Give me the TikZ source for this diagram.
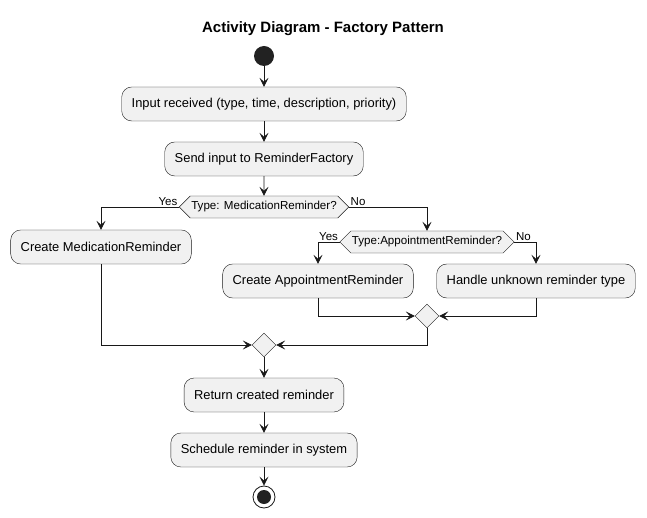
\documentclass[tikz,border=0pt]{standalone}
\usepackage{fontspec}
\setmainfont{Liberation Sans}
\usepackage{tikz}
\usetikzlibrary{shapes.geometric, shapes.symbols, arrows.meta, positioning, calc}

\definecolor{actfill}{HTML}{F1F1F1}
\definecolor{actline}{HTML}{181818}
\definecolor{dotfill}{HTML}{222222}

\begin{document}
\begin{tikzpicture}[
        x=1pt, y=-1pt,
        activity/.style={draw=actline, fill=actfill, rounded corners=10pt, minimum height=34pt, inner xsep=10pt, font=\fontsize{12.9}{15}\selectfont},
        decision/.style={draw=actline, fill=actfill, shape=signal, signal to=west and east, signal pointer angle=90, minimum height=22pt, inner xsep=1pt, inner ysep=0pt, font=\fontsize{11.6}{13}\selectfont},
        merge/.style={draw=actline, fill=actfill, diamond, minimum width=24pt, minimum height=24pt, inner sep=0pt},
        guard/.style={font=\fontsize{11.5}{13}\selectfont, inner sep=1.5pt},
        arrow/.style={-{Stealth[length=9pt, width=9pt, inset=4pt]}, draw=actline, line width=0.8pt}
    ]
    \useasboundingbox (0,0) rectangle (647,518);

    % Title
    \node[font=\fontsize{15}{18}\selectfont\bfseries] (title) at (323,29) {Activity Diagram - Factory Pattern};

    % Start
    \node[circle, fill=dotfill, minimum size=20pt, inner sep=0pt] (start) at (264,56) {};

    % Main flow
    \node[activity] (input) at (264,104) {Input received (type, time, description, priority)};
    \node[activity] (send) at (264,159) {Send input to ReminderFactory};
    \node[decision] (dec1) at (264,207) {Type: MedicationReminder?};

    % Branches
    \node[activity] (med) at (101,247) {Create MedicationReminder};
    \node[decision] (dec2) at (427,242) {Type:AppointmentReminder?};
    \node[activity] (appt) at (318,281) {Create AppointmentReminder};
    \node[activity] (unknown) at (536,281) {Handle unknown reminder type};

    % Merges
    \node[merge] (merge2) at (427,316) {};
    \node[merge] (merge1) at (264,345) {};

    % Tail
    \node[activity] (ret) at (264,395) {Return created reminder};
    \node[activity] (sched) at (264,450) {Schedule reminder in system};

    % End
    \node[circle, draw=actline, fill=white, line width=0.8pt, minimum size=22pt, inner sep=0pt] (stop) at (264,497) {};
    \node[circle, fill=dotfill, minimum size=14pt, inner sep=0pt] (stopdot) at (stop) {};

    % Guards
    \node[guard, anchor=south east] (yes1) at (dec1.west) {Yes};
    \node[guard, anchor=south west] (no1) at (dec1.east) {No};
    \node[guard, anchor=south east] (yes2) at (dec2.west) {Yes};
    \node[guard, anchor=south west] (no2) at (dec2.east) {No};

    % Connectors
    \draw[arrow] (start) -- (input);
    \draw[arrow] (input) -- (send);
    \draw[arrow] (send) -- (dec1);
    \draw[arrow] (dec1.west) -| (med);
    \draw[arrow] (dec1.east) -| (dec2);
    \draw[arrow] (dec2.west) -| (appt);
    \draw[arrow] (dec2.east) -| (unknown);
    \draw[arrow] (appt.south) |- (merge2.west);
    \draw[arrow] (unknown.south) |- (merge2.east);
    \draw[arrow] (med.south) |- (merge1.west);
    \draw[arrow] (merge2.south) |- (merge1.east);
    \draw[arrow] (merge1) -- (ret);
    \draw[arrow] (ret) -- (sched);
    \draw[arrow] (sched) -- (stop);

    \end{tikzpicture}
\end{document}
